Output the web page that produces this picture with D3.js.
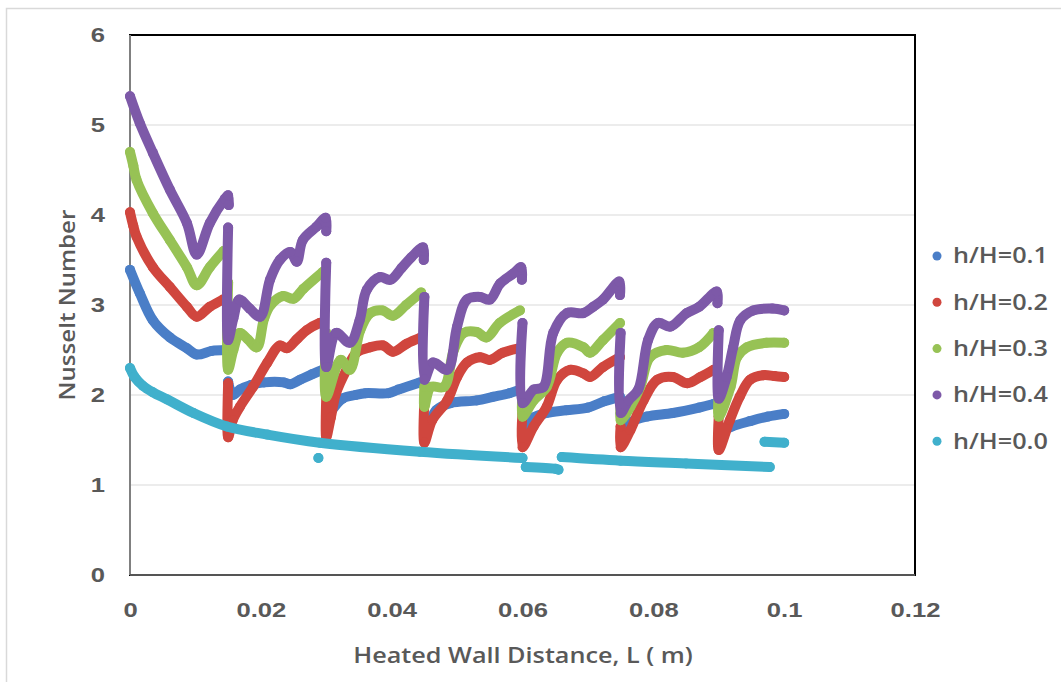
<!DOCTYPE html>
<html>
<head>
  <meta charset="utf-8">
  <style type="text/css">
    body { margin: 0; background: #fff; }
    svg { display: block; font-family: "Open Sans", sans-serif; }
    .tick-label { fill: #595959; font-weight: 600; font-size: 21px; }
    .axis-title { fill: #595959; font-weight: 600; font-size: 21px; }
    .legend-label { fill: #595959; font-weight: 600; font-size: 21px; }
  </style>
  <script src="https://d3js.org/d3.v7.min.js"></script>
</head>
<body>
<script type="text/javascript">
  "use strict";

  // axis ticks
  var xTickValues = [0, 0.02, 0.04, 0.06, 0.08, 0.1, 0.12];
  var xTickLabels = ["0", "0.02", "0.04", "0.06", "0.08", "0.1", "0.12"];
  var yTickValues = [0, 1, 2, 3, 4, 5, 6];
  var yTickLabels = ["0", "1", "2", "3", "4", "5", "6"];

  // series names, in Excel draw order
  var seriesNames = ["h/H=0.1", "h/H=0.2", "h/H=0.3", "h/H=0.4", "h/H=0.0"];
  var seriesColors = ["#4a7ec7", "#d0463e", "#97c255", "#7d59a8", "#40b0cc"];

  // each series = list of segments, each segment = [L (m), Nu]
  var nuH01 = [
    [[0, 3.39], [0.0015, 3.13], [0.0035, 2.83], [0.0061, 2.64], [0.0087, 2.52], [0.0102, 2.45], [0.0125, 2.49], [0.0145, 2.5]],
    [[0.015, 2.15], [0.0157, 2.0], [0.0168, 2.06], [0.0185, 2.11], [0.0205, 2.14], [0.0235, 2.14], [0.0245, 2.12], [0.026, 2.17], [0.0278, 2.23], [0.0295, 2.28]],
    [[0.0306, 1.8], [0.0325, 1.96], [0.0345, 2.0], [0.036, 2.02], [0.0395, 2.02], [0.041, 2.06], [0.0443, 2.14]],
    [[0.0455, 1.62], [0.0468, 1.83], [0.049, 1.91], [0.053, 1.94], [0.0555, 1.98], [0.058, 2.02], [0.0596, 2.06]],
    [[0.0605, 1.62], [0.0617, 1.75], [0.0637, 1.8], [0.0667, 1.83], [0.07, 1.86], [0.0725, 1.93], [0.0749, 1.98]],
    [[0.0755, 1.62], [0.0765, 1.7], [0.079, 1.76], [0.083, 1.8], [0.087, 1.86], [0.0892, 1.9]],
    [[0.0905, 1.6], [0.092, 1.65], [0.0948, 1.71], [0.0975, 1.76], [0.1, 1.79]]
  ];
  var nuH02 = [
    [[0, 4.03], [0.0005, 3.88], [0.001, 3.76], [0.0035, 3.42], [0.0061, 3.2], [0.0087, 2.98], [0.0102, 2.87], [0.0122, 2.98], [0.0142, 3.06]],
    [[0.015, 2.13], [0.015, 1.53], [0.0157, 1.72], [0.0168, 1.87], [0.0188, 2.09], [0.021, 2.36], [0.0229, 2.55], [0.024, 2.52], [0.0255, 2.62], [0.027, 2.72], [0.029, 2.8], [0.0295, 2.81]],
    [[0.03, 1.98], [0.03, 1.53], [0.0307, 1.75], [0.0315, 2.02], [0.0331, 2.28], [0.0346, 2.47], [0.0367, 2.53], [0.0387, 2.55], [0.0402, 2.48], [0.0423, 2.57], [0.0445, 2.64]],
    [[0.045, 1.94], [0.045, 1.47], [0.0462, 1.72], [0.0485, 1.94], [0.05, 2.2], [0.0515, 2.36], [0.0535, 2.42], [0.055, 2.39], [0.057, 2.47], [0.0596, 2.52]],
    [[0.06, 1.8], [0.06, 1.42], [0.0617, 1.65], [0.0637, 1.87], [0.0653, 2.17], [0.0673, 2.28], [0.0693, 2.24], [0.0703, 2.2], [0.0723, 2.31], [0.0749, 2.42]],
    [[0.075, 1.65], [0.075, 1.42], [0.0765, 1.61], [0.0785, 1.94], [0.0806, 2.17], [0.083, 2.2], [0.0852, 2.13], [0.0872, 2.2], [0.0892, 2.28]],
    [[0.09, 1.76], [0.09, 1.39], [0.0917, 1.72], [0.0932, 1.98], [0.0948, 2.17], [0.0968, 2.22], [0.0985, 2.21], [0.1, 2.2]]
  ];
  var nuH03 = [
    [[0, 4.7], [0.0005, 4.55], [0.001, 4.39], [0.0035, 4.02], [0.0061, 3.72], [0.0087, 3.42], [0.0102, 3.22], [0.0122, 3.42], [0.0143, 3.6]],
    [[0.015, 3.25], [0.015, 2.28], [0.0158, 2.5], [0.0168, 2.69], [0.018, 2.62], [0.0194, 2.53], [0.0205, 2.85], [0.0215, 3.0], [0.0234, 3.1], [0.025, 3.07], [0.0265, 3.18], [0.0295, 3.37]],
    [[0.03, 2.69], [0.03, 1.98], [0.0322, 2.39], [0.0336, 2.28], [0.0352, 2.72], [0.0367, 2.91], [0.0386, 2.94], [0.0402, 2.88], [0.0422, 3.0], [0.0445, 3.14]],
    [[0.045, 2.09], [0.045, 1.87], [0.046, 2.09], [0.048, 2.09], [0.0495, 2.5], [0.051, 2.69], [0.053, 2.7], [0.0545, 2.64], [0.0565, 2.8], [0.0596, 2.94]],
    [[0.06, 1.98], [0.06, 1.76], [0.0617, 1.94], [0.0637, 2.09], [0.0653, 2.47], [0.0668, 2.58], [0.0693, 2.53], [0.0703, 2.47], [0.0723, 2.61], [0.0749, 2.8]],
    [[0.075, 1.87], [0.075, 1.72], [0.0765, 1.87], [0.078, 2.09], [0.0795, 2.42], [0.082, 2.5], [0.0845, 2.47], [0.087, 2.53], [0.0892, 2.69]],
    [[0.09, 2.02], [0.09, 1.76], [0.0918, 2.09], [0.0928, 2.42], [0.0943, 2.53], [0.0973, 2.58], [0.1, 2.58]]
  ];
  var nuH04 = [
    [[0, 5.32], [0.0015, 5.02], [0.0035, 4.69], [0.0061, 4.28], [0.0087, 3.91], [0.0102, 3.56], [0.0122, 3.91], [0.0145, 4.18], [0.015, 4.22], [0.0151, 4.11]],
    [[0.015, 3.86], [0.015, 2.61], [0.0158, 2.85], [0.0167, 3.06], [0.0183, 2.96], [0.0199, 2.87], [0.0214, 3.28], [0.0229, 3.5], [0.0245, 3.59], [0.0255, 3.48], [0.0264, 3.72], [0.0285, 3.87], [0.0299, 3.97], [0.03, 3.82]],
    [[0.03, 3.47], [0.03, 2.31], [0.0315, 2.69], [0.0336, 2.58], [0.0351, 2.83], [0.0362, 3.17], [0.0382, 3.31], [0.0398, 3.28], [0.0415, 3.41], [0.043, 3.53], [0.0448, 3.64], [0.0449, 3.5]],
    [[0.045, 3.09], [0.045, 2.17], [0.0463, 2.36], [0.0485, 2.28], [0.05, 2.76], [0.0515, 3.06], [0.0535, 3.09], [0.055, 3.06], [0.0566, 3.24], [0.0586, 3.35], [0.0598, 3.42], [0.0599, 3.28]],
    [[0.06, 2.8], [0.06, 1.91], [0.0617, 2.06], [0.0632, 2.09], [0.0647, 2.69], [0.0668, 2.91], [0.0693, 2.91], [0.0708, 2.98], [0.0723, 3.06], [0.0748, 3.26], [0.0749, 3.11]],
    [[0.075, 2.69], [0.075, 1.8], [0.0762, 1.94], [0.0777, 2.06], [0.0792, 2.61], [0.0807, 2.8], [0.0826, 2.76], [0.0851, 2.91], [0.087, 2.98], [0.0897, 3.15], [0.0898, 3.02]],
    [[0.09, 2.72], [0.09, 1.96], [0.0912, 2.2], [0.0922, 2.53], [0.0933, 2.83], [0.0953, 2.94], [0.0982, 2.96], [0.1, 2.94]]
  ];
  var nuH00 = [
    [[0, 2.3], [0.0007, 2.2], [0.002, 2.1], [0.0035, 2.03], [0.0057, 1.95], [0.0097, 1.8], [0.0148, 1.65], [0.021, 1.56], [0.029, 1.47], [0.0443, 1.37], [0.06, 1.3]],
    [[0.0605, 1.2], [0.065, 1.18], [0.0655, 1.17]],
    [[0.066, 1.31], [0.075, 1.27], [0.085, 1.24], [0.0978, 1.2]],
    [[0.097, 1.48], [0.1, 1.47]],
    [[0.0288, 1.3]]
  ];
  var allSeries = [nuH01, nuH02, nuH03, nuH04, nuH00];

  var W = 1061, H = 682;
  var svg = d3.select("body")
    .append("svg")
      .attr("width", W)
      .attr("height", H);

  // the source font is wider than anything installed; stretch text horizontally
  function stretch(sel, k) {
    sel.each(function() {
      var w = this.getComputedTextLength();
      d3.select(this)
        .attr("textLength", w * k)
        .attr("lengthAdjust", "spacingAndGlyphs");
    });
  }

  // outer chart frame
  svg.append("rect")
    .attr("x", 6.5).attr("y", 8.5)
    .attr("width", 1060).attr("height", 700)
    .attr("fill", "#fff")
    .attr("stroke", "#d9d9d9")
    .attr("stroke-width", 1.5);

  var x = d3.scaleLinear().domain([0, 0.12]).range([130, 915]);
  var y = d3.scaleLinear().domain([0, 6]).range([575, 35]);

  // horizontal gridlines
  svg.append("g")
    .selectAll("line")
    .data(yTickValues.slice(1, -1))
    .enter().append("line")
      .attr("x1", x(0)).attr("x2", x(0.12))
      .attr("y1", function(d) { return y(d); })
      .attr("y2", function(d) { return y(d); })
      .attr("stroke", "#d9d9d9")
      .attr("stroke-width", 1.2);

  // plot frame: black top/right, grey axes left/bottom
  svg.append("rect")
    .attr("x", x(0)).attr("y", y(6))
    .attr("width", x(0.12) - x(0)).attr("height", y(0) - y(6))
    .attr("fill", "none")
    .attr("stroke", "#000")
    .attr("stroke-width", 2);
  svg.append("line")
    .attr("x1", x(0)).attr("x2", x(0))
    .attr("y1", y(6)).attr("y2", y(0))
    .attr("stroke", "#808080").attr("stroke-width", 2);
  svg.append("line")
    .attr("x1", x(0)).attr("x2", x(0.12))
    .attr("y1", y(0)).attr("y2", y(0))
    .attr("stroke", "#555").attr("stroke-width", 2);

  // axes (labels only)
  var xAxis = d3.axisBottom(x)
    .tickValues(xTickValues)
    .tickSize(0)
    .tickPadding(0)
    .tickFormat(function(d, i) { return xTickLabels[i]; });
  var gx = svg.append("g")
    .attr("transform", "translate(0," + (y(0) + 35) + ")")
    .call(xAxis);
  gx.select(".domain").remove();
  gx.selectAll("text")
    .attr("class", "tick-label")
    .attr("font-family", null).attr("font-size", null)
    .attr("fill", null)
    .attr("dy", "0.35em")
    .call(stretch, 1.22);

  var yAxis = d3.axisLeft(y)
    .tickValues(yTickValues)
    .tickSize(0)
    .tickPadding(0)
    .tickFormat(function(d, i) { return yTickLabels[i]; });
  var gy = svg.append("g")
    .attr("transform", "translate(105,0)")
    .call(yAxis);
  gy.select(".domain").remove();
  gy.selectAll("text")
    .attr("class", "tick-label")
    .attr("font-family", null).attr("font-size", null)
    .attr("fill", null)
    .call(stretch, 1.22);

  // axis titles
  svg.append("text")
    .attr("class", "axis-title")
    .attr("x", 523).attr("y", 663)
    .attr("text-anchor", "middle")
    .text("Heated Wall Distance,  L ( m)")
    .call(stretch, 1.2);
  svg.append("text")
    .attr("class", "axis-title")
    .attr("transform", "translate(75,305) rotate(-90)")
    .attr("text-anchor", "middle")
    .text("Nusselt Number")
    .call(stretch, 1.15);

  // series: dense Excel markers look like thick bands
  var line = d3.line()
    .curve(d3.curveCatmullRom.alpha(0.5))
    .x(function(d) { return x(d[0]); })
    .y(function(d) { return y(d[1]); });

  var plot = svg.append("g");
  allSeries.forEach(function(segs, si) {
    var g = plot.append("g");
    g.selectAll("path")
      .data(segs)
      .enter().append("path")
        .attr("d", line)
        .attr("fill", "none")
        .attr("stroke", seriesColors[si])
        .attr("stroke-width", 10)
        .attr("stroke-linecap", "round")
        .attr("stroke-linejoin", "round");
    g.selectAll("circle")
      .data(d3.merge(segs))
      .enter().append("circle")
        .attr("cx", function(d) { return x(d[0]); })
        .attr("cy", function(d) { return y(d[1]); })
        .attr("r", 5)
        .attr("fill", seriesColors[si]);
  });

  // legend
  var legend = svg.append("g");
  var rows = legend.selectAll("g")
    .data(seriesNames)
    .enter().append("g")
      .attr("transform", function(d, i) { return "translate(937," + (256 + i * 46.3) + ")"; });
  rows.append("circle")
    .attr("r", 4.5)
    .attr("fill", function(d, i) { return seriesColors[i]; });
  rows.append("text")
    .attr("class", "legend-label")
    .attr("x", 16)
    .attr("dy", "0.35em")
    .text(function(d) { return d; })
    .call(stretch, 1.2);
</script>
</body>
</html>
